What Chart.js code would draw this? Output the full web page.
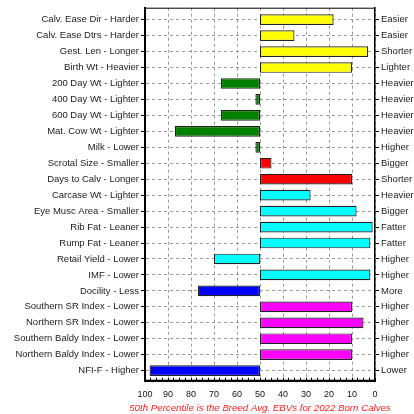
<!DOCTYPE html>
<html>
<head>
<meta charset="utf-8">
<script src="https://cdn.jsdelivr.net/npm/chart.js@4"></script>
<style>
html,body{margin:0;padding:0;background:#fff;}
#wrap{width:414px;height:414px;position:relative;}
</style>
</head>
<body>
<div id="wrap"><canvas id="c"></canvas></div>
<script>
const traitLabels = [
  "Calv. Ease Dir - Harder","Calv. Ease Dtrs - Harder","Gest. Len - Longer","Birth Wt - Heavier",
  "200 Day Wt - Lighter","400 Day Wt - Lighter","600 Day Wt - Lighter","Mat. Cow Wt - Lighter",
  "Milk - Lower","Scrotal Size - Smaller","Days to Calv - Longer","Carcase Wt - Lighter",
  "Eye Musc Area - Smaller","Rib Fat - Leaner","Rump Fat - Leaner","Retail Yield - Lower",
  "IMF - Lower","Docility - Less","Southern SR Index - Lower","Northern SR Index - Lower",
  "Southern Baldy Index - Lower","Northern Baldy Index - Lower","NFI-F - Higher"
];
const rightLabels = [
  "Easier","Easier","Shorter","Lighter","Heavier","Heavier","Heavier","Heavier",
  "Higher","Bigger","Shorter","Heavier","Bigger","Fatter","Fatter","Higher",
  "Higher","More","Higher","Higher","Higher","Higher","Lower"
];
const percentiles = [18,35,3,10,67,52,67,87,52,45,10,28,8,1,2,70,2,77,10,5,10,10,98];
const breedAvg = 50;
const barColors = [
  "#ffff00","#ffff00","#ffff00","#ffff00",
  "#008000","#008000","#008000","#008000","#008000",
  "#ff0000","#ff0000",
  "#00ffff","#00ffff","#00ffff","#00ffff","#00ffff","#00ffff",
  "#0000ff",
  "#ff00ff","#ff00ff","#ff00ff","#ff00ff",
  "#0000ff"
];
const xTicks = [100,90,80,70,60,50,40,30,20,10,0];
const footer = "50th Percentile is the Breed Avg. EBVs for 2022 Born Calves";

const FONT = "'Liberation Sans', Arial, sans-serif";
const idxTicks = s => { s.ticks = traitLabels.map((_, i) => ({ value: i })); };

const frame = {
  id: 'frame',
  afterDraw(chart) {
    const a = chart.chartArea, ctx = chart.ctx;
    ctx.save();
    ctx.strokeStyle = '#000';
    ctx.lineWidth = 1;
    ctx.strokeRect(a.left + 0.5, a.top + 0.5, a.right - a.left - 1, a.bottom - a.top - 1);
    // footer note, centred under the plot area
    ctx.fillStyle = '#ff2020';
    ctx.font = "italic 9.7px " + FONT;
    ctx.textAlign = 'center';
    ctx.textBaseline = 'middle';
    ctx.fillText(footer, (a.left + a.right) / 2, chart.height - 6);
    ctx.restore();
  }
};

new Chart(document.getElementById('c'), {
  type: 'bar',
  data: {
    datasets: [{
      data: percentiles.map((v, i) => ({ x: [breedAvg, v], y: i })),
      backgroundColor: barColors,
      borderColor: '#222',
      borderWidth: 1.2,
      borderSkipped: false,
      barPercentage: 0.67,
      categoryPercentage: 1,
      yAxisID: 'y'
    }]
  },
  options: {
    indexAxis: 'y',
    responsive: true,
    maintainAspectRatio: false,
    animation: false,
    devicePixelRatio: 1,
    layout: { padding: { top: 7, bottom: 13.3, left: 0, right: 0 } },
    plugins: {
      legend: { display: false },
      tooltip: { enabled: false },
      title: { display: false }
    },
    scales: {
      x: {
        type: 'linear',
        min: 0, max: 100,
        reverse: true,
        afterBuildTicks: s => { const t = []; for (let v = 0; v <= 100; v += 2.5) t.push({ value: v }); s.ticks = t; },
        afterFit: s => { s.height = 20; },
        ticks: {
          autoSkip: false,
          maxRotation: 0,
          padding: 11,
          color: '#111',
          font: { family: FONT, size: 9 },
          callback: v => xTicks.includes(v) ? String(v) : ''
        },
        grid: {
          color: c => (c.tick && xTicks.includes(c.tick.value)) ? '#999' : 'rgba(0,0,0,0)',
          tickColor: '#000',
          tickLength: -3,
          lineWidth: 1
        },
        border: { display: true, color: '#000', width: 2, dash: [3, 3] }
      },
      y: {
        type: 'linear',
        position: 'left',
        offset: false,
        min: -0.75, max: 22.63,
        reverse: true,
        afterBuildTicks: idxTicks,
        afterFit: s => { s.width = 145; },
        ticks: {
          autoSkip: false,
          padding: 2,
          color: '#222',
          font: { family: FONT, size: 9.5 },
          callback: v => traitLabels[v]
        },
        grid: { offset: false, color: '#999', tickColor: '#000', tickLength: 4 },
        border: { display: true, color: '#000', width: 2, dash: [3, 3] }
      },
      y2: {
        type: 'linear',
        position: 'right',
        offset: false,
        min: -0.75, max: 22.63,
        reverse: true,
        afterBuildTicks: idxTicks,
        afterFit: s => { s.width = 39; },
        ticks: {
          autoSkip: false,
          padding: 2,
          color: '#222',
          font: { family: FONT, size: 9.5 },
          callback: v => rightLabels[v]
        },
        grid: { offset: false, drawOnChartArea: false, tickColor: '#000', tickLength: 4 },
        border: { display: true, color: '#000', width: 1.5 }
      }
    }
  },
  plugins: [frame]
});
</script>
</body>
</html>
